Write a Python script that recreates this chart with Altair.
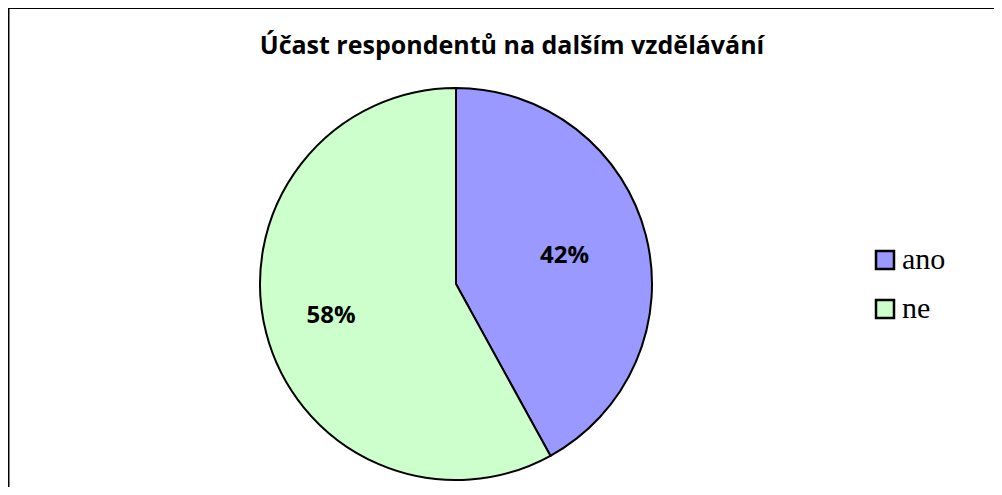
import altair as alt
import pandas as pd

categories = ["ano", "ne"]
values = [42, 58]
labels = ["42%", "58%"]
colors = ["#9999FF", "#CCFFCC"]

df = pd.DataFrame({"k": categories, "v": values, "lab": labels, "o": [0, 1]})

W, H = 986, 419
CX, CY, R = 448, 216, 196

base = alt.Chart(df).encode(
    theta=alt.Theta("v:Q", stack=True),
    order=alt.Order("o:Q"),
    detail=alt.Detail("k:N"),
)

pie = base.mark_arc(stroke="black", strokeWidth=2, outerRadius=R).encode(
    x=alt.value(CX), y=alt.value(CY),
    color=alt.Color(
        "k:N",
        scale=alt.Scale(domain=categories, range=colors),
        legend=alt.Legend(
            title=None, orient="none", legendX=862, legendY=177,
            symbolType="square", symbolSize=324, symbolStrokeColor="black",
            symbolStrokeWidth=2.5, symbolOpacity=1,
            labelFont="Liberation Serif", labelFontSize=30, labelColor="black",
            labelOffset=2, rowPadding=19, padding=0,
        ),
    ),
)


def label_layer(cat, rad):
    return base.transform_calculate(
        t=f"datum.k == '{cat}' ? datum.lab : ''"
    ).mark_text(
        font="Open Sans", fontWeight="bold", fontSize=24, color="black", radius=rad
    ).encode(
        x=alt.value(CX), y=alt.value(CY),
        text="t:N",
    )


text_ano = label_layer("ano", 112)
text_ne = label_layer("ne", 129)

frame_data = alt.Data(values=[{"a": 1}])
top_line = alt.Chart(frame_data).mark_rule(color="black", strokeWidth=2).encode(
    x=alt.value(0), x2=alt.value(1000), y=alt.value(-60)
)
left_line = alt.Chart(frame_data).mark_rule(color="black", strokeWidth=2).encode(
    x=alt.value(0.5), y=alt.value(-61), y2=alt.value(500)
)

chart = alt.layer(pie, text_ano, text_ne, top_line, left_line).properties(
    width=W, height=H,
    title=alt.TitleParams(
        "Účast respondentů na dalším vzdělávání",
        font="Open Sans", fontSize=25, fontWeight="bold", color="black",
        anchor="middle", dx=11, offset=-53,
    ),
    autosize=alt.AutoSizeParams(type="none"),
    padding={"left": 0, "top": 60, "right": 0, "bottom": 0},
).configure_view(stroke=None)

chart.save("out.html", embed_options={"renderer": "svg", "actions": False})
